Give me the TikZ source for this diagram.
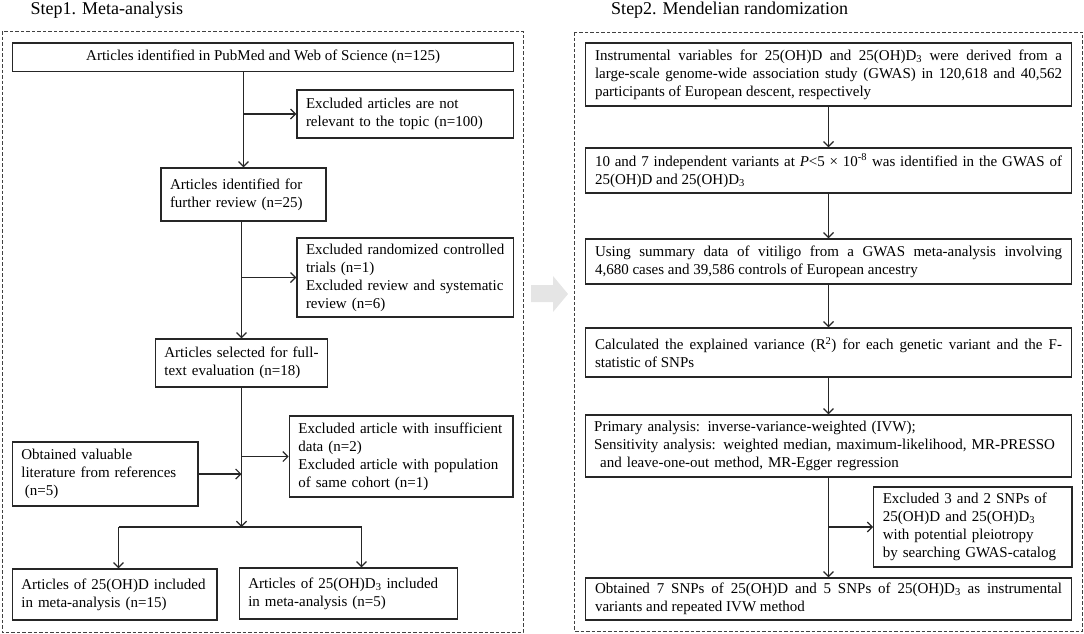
\documentclass[tikz,border=0pt]{standalone}
\usepackage{fontspec}
\setmainfont{Liberation Serif}
\usetikzlibrary{arrows.meta,calc}

\begin{document}
\begin{tikzpicture}[x=1pt,y=-1pt,font=\fontsize{15}{18}\selectfont]
\tikzset{
% Box styles: plain, ragged left with a small inset, and justified
box/.style={draw=black!85,line width=1.3pt},
lbox/.style={box,inner xsep=3pt,inner ysep=2pt,align=left,execute at begin node={\leftskip=6pt}},
jbox/.style={box,inner xsep=9.8pt,inner ysep=2pt,text width=467pt,minimum width=486.6pt,align=justify},
size/.style 2 args={minimum width=#1,text width=#1-6,minimum height=#2},
frame/.style={draw=black!75,line width=1pt,dash pattern=on 3.5pt off 2pt},
link/.style={draw=black!85,line width=1.2pt},
flow/.style={link,-{Straight Barb[length=5pt,width=10pt]}},
title/.style={anchor=base west,font=\fontsize{18}{21}\selectfont}
}
\useasboundingbox (0,0) rectangle (1084,633);

% dashed frames and titles
\draw[frame] (2,31) rectangle (523,632);
\draw[frame] (574.7,32) rectangle (1082.5,631);
\node(t1)[title] at (27,14) {Step1. Meta-analysis};
\node(t2)[title] at (607.7,14) {Step2. Mendelian randomization};

% grey arrow between the two steps
\fill[black!10] (531,285) -- (553,285) -- (553,276) -- (568,294) -- (553,312) -- (553,302) -- (531,302) -- cycle;

% Step 1
\node(art)[box,minimum width=501.4,minimum height=28.5] at (263.1,57.2) {Articles identified in PubMed and Web of Science (n=125)};
\node(exc1)[lbox,size={216.8}{48}] at (405.4,114) {Excluded articles are not\\relevant to the topic (n=100)};
\node(rev)[lbox,size={165}{53}] at (243.5,194.5) {Articles identified for\\further review (n=25)};
\node(exc2)[lbox,size={216.8}{79}] at (405.4,277.5) {Excluded randomized controlled\\trials (n=1)\\Excluded review and systematic\\review (n=6)};
\node(full)[lbox,size={172.2}{48}] at (241.5,363) {Articles selected for full-\\text evaluation (n=18)};
\node(exc3)[lbox,size={223.7}{81}] at (401.2,456.5) {Excluded article with insufficient\\data (n=2)\\Excluded article with population\\of same cohort (n=1)};
\node(refs)[lbox,size={185.6}{64}] at (105.2,474) {Obtained valuable\\literature from references\\\hspace*{3.5pt}(n=5)};
\node(incD)[lbox,size={204.6}{51}] at (114.7,594.5) {Articles of 25(OH)D included\\in meta-analysis (n=15)};
\node(incD3)[lbox,size={218}{51}] at (348.3,593.5) {Articles of 25(OH)D\textsubscript{3} included\\in meta-analysis (n=5)};

\coordinate(sl) at (118.5,527);
\coordinate(sr) at (361.5,527);
\draw[flow] (rev.north |- art.south) -- (rev.north);
\draw[flow] (rev.north |- exc1.west) -- (exc1.west);
\draw[flow] (rev.south -| full.north) -- (full.north);
\draw[flow] (full.north |- exc2.west) -- (exc2.west);
\draw[flow] (full.south) -- (full.south |- sl);
\draw[flow] (full.south |- exc3.west) -- (exc3.west);
\draw[flow] (refs.east) -- (refs.east -| full.south);
\draw[link] (sl) -- (sr);
\draw[flow] (sl) -- (sl |- incD.north);
\draw[flow] (sr) -- (sr |- incD3.north);

% Step 2
\node(ivs)[jbox,minimum height=63] at (828.5,74.5) {Instrumental variables for 25(OH)D and 25(OH)D\textsubscript{3} were derived from a\linebreak large-scale genome-wide association study (GWAS) in 120,618 and 40,562\linebreak participants of European descent, respectively};
\node(var)[jbox,minimum height=45] at (828.5,170.5) {10 and 7 independent variants at \textit{P}<5 × 10\textsuperscript{-8} was identified in the GWAS of\linebreak 25(OH)D and 25(OH)D\textsubscript{3}};
\node(sum)[jbox,minimum height=45] at (828.5,261.5) {Using summary data of vitiligo from a GWAS meta-analysis involving\linebreak 4,680 cases and 39,586 controls of European ancestry};
\node(rsq)[jbox,minimum height=49] at (828.5,352.5) {Calculated the explained variance (R\textsuperscript{2}) for each genetic variant and the F-\linebreak statistic of SNPs};
\node(prim)[lbox,size={486.6}{62}] at (828.5,446) {Primary analysis: inverse-variance-weighted (IVW);\\Sensitivity analysis: weighted median, maximum-likelihood, MR-PRESSO\\\hspace*{6pt}and leave-one-out method, MR-Egger regression};
\node(excl)[lbox,size={198.2}{80}] at (972.9,527) {Excluded 3 and 2 SNPs of\\25(OH)D and 25(OH)D\textsubscript{3}\\with potential pleiotropy\\by searching GWAS-catalog};
\node(obt)[jbox,minimum height=42] at (828.5,599) {Obtained 7 SNPs of 25(OH)D and 5 SNPs of 25(OH)D\textsubscript{3} as instrumental\linebreak variants and repeated IVW method};

\draw[flow] (ivs) -- (var);
\draw[flow] (var) -- (sum);
\draw[flow] (sum) -- (rsq);
\draw[flow] (rsq) -- (prim);
\draw[flow] (prim) -- (obt);
\draw[flow] (prim.south |- excl.west) -- (excl.west);
\end{tikzpicture}
\end{document}
